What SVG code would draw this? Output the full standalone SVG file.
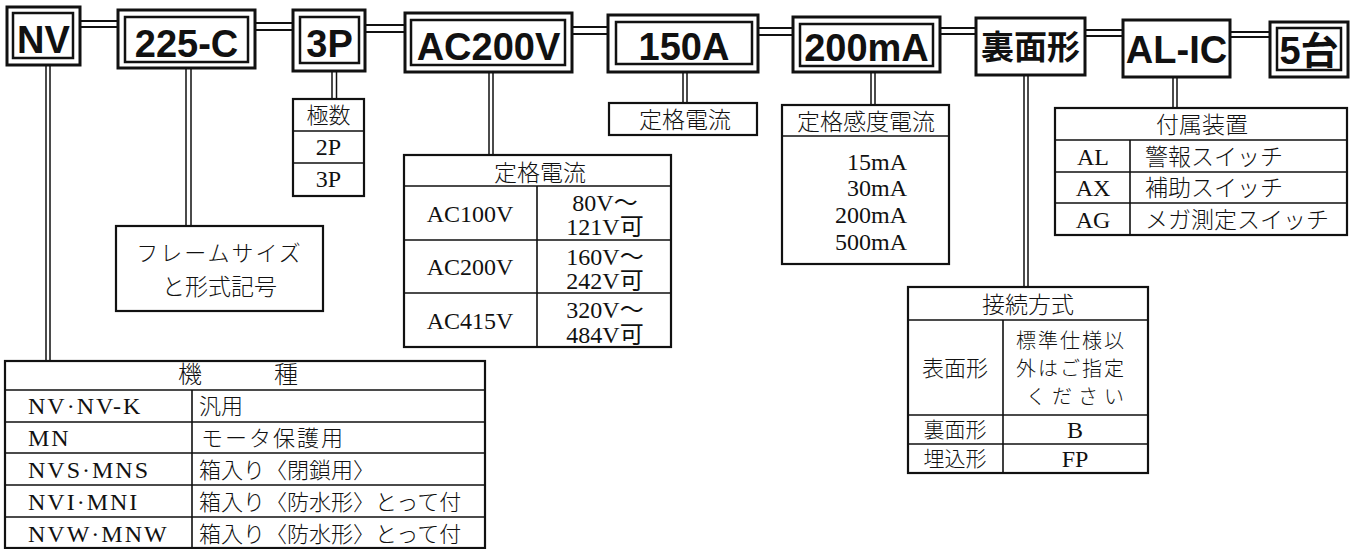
<svg xmlns="http://www.w3.org/2000/svg" width="1353" height="549" viewBox="0 0 1353 549">
<style>
.box{fill:#fff;stroke:#111;stroke-width:3}
.inner{fill:none;stroke:#111;stroke-width:2.5}
.tbl{fill:#fff;stroke:#111;stroke-width:2.2}
.ln{stroke:#111;stroke-width:1.6;fill:none}
.cn{stroke:#111;stroke-width:2;fill:none}
.st{stroke:#111;stroke-width:1.5;fill:none}
.big{font-family:"Liberation Sans","Noto Sans CJK JP",sans-serif;font-weight:bold;font-size:38px;text-anchor:middle;fill:#111}
.bigj{font-family:"Noto Sans CJK JP",sans-serif;font-weight:bold;font-size:33px;text-anchor:middle;fill:#111}
.t{font-family:"Liberation Serif","Noto Sans CJK JP",serif;font-size:24px;fill:#111}
.j{font-family:"Noto Sans CJK JP","Liberation Serif",sans-serif;font-size:22px;font-weight:300;fill:#111}
.c{text-anchor:middle}
.e{text-anchor:end}
</style>
<rect width="1353" height="549" fill="#fff"/>

<g id="connectors">
  <path class="cn" d="M80 21H118M80 27H118"/>
  <path class="cn" d="M255 23H293M255 30H293"/>
  <path class="cn" d="M365 25H405M365 32H405"/>
  <path class="cn" d="M572 27H608M572 34H608"/>
  <path class="cn" d="M758 28H793M758 35H793"/>
  <path class="cn" d="M940 28H976M940 34H976"/>
  <path class="cn" d="M1085 30H1123M1085 36H1123"/>
  <path class="cn" d="M1230 32H1270M1230 37H1270"/>
  <path class="st" d="M46 65V361M50 65V361"/>
  <path class="st" d="M186 68V226M191 68V226"/>
  <path class="st" d="M332 71V99M336.5 71V99"/>
  <path class="st" d="M489 72V155M493 72V155"/>
  <path class="st" d="M683 72V103M687 72V103"/>
  <path class="st" d="M871 72V105M875 72V105"/>
  <path class="st" d="M1024 75V287M1028 75V287"/>
  <path class="st" d="M1173 77V108M1177 77V108"/>
</g>

<g id="node-nv">
  <rect class="box" x="7" y="7" width="73" height="58"/>
  <rect class="inner" x="13" y="13" width="60" height="45"/>
  <text class="big" x="43.5" y="53">NV</text>
</g>
<g id="node-225c">
  <rect class="box" x="118" y="10" width="137" height="58"/>
  <rect class="inner" x="125" y="17" width="123" height="45"/>
  <text class="big" x="186.5" y="57">225-C</text>
</g>
<g id="node-3p">
  <rect class="box" x="293" y="10" width="72" height="61"/>
  <rect class="inner" x="300" y="17" width="59" height="46"/>
  <text class="big" x="329.5" y="57">3P</text>
</g>
<g id="node-ac200v">
  <rect class="box" x="405" y="13" width="167" height="59"/>
  <rect class="inner" x="411" y="20" width="154" height="45"/>
  <text class="big" x="488.5" y="60">AC200V</text>
</g>
<g id="node-150a">
  <rect class="box" x="608" y="15" width="150" height="57"/>
  <rect class="inner" x="616" y="22" width="136" height="42"/>
  <text class="big" x="684" y="60">150A</text>
</g>
<g id="node-200ma">
  <rect class="box" x="793" y="17" width="147" height="55"/>
  <rect class="inner" x="800" y="24" width="133" height="42"/>
  <text class="big" x="866.5" y="61">200mA</text>
</g>
<g id="node-ura">
  <rect class="box" x="976" y="18" width="109" height="57"/>
  <text class="bigj" x="1030.5" y="59">裏面形</text>
</g>
<g id="node-alic">
  <rect class="box" x="1123" y="20" width="107" height="57"/>
  <text class="big" x="1176.5" y="63">AL-IC</text>
</g>
<g id="node-5dai">
  <rect class="box" x="1270" y="22" width="78" height="55"/>
  <rect class="inner" x="1277" y="28" width="64" height="42"/>
  <text class="big" x="1309" y="64">5台</text>
</g>

<g id="table-kyokusu">
  <rect class="tbl" x="293" y="99" width="71" height="97"/>
  <path class="ln" d="M293 131H364M293 163H364"/>
  <text class="j c" x="328.5" y="123">極数</text>
  <text class="t c" x="328.5" y="155">2P</text>
  <text class="t c" x="328.5" y="187">3P</text>
</g>

<g id="box-frame">
  <rect class="tbl" x="116" y="226" width="207" height="85"/>
  <text class="j c" x="219.5" y="261" letter-spacing="2">フレームサイズ</text>
  <text class="j c" x="219.5" y="295" style="font-size:23px">と形式記号</text>
</g>

<g id="table-kishu">
  <rect class="tbl" x="5" y="361" width="480" height="187"/>
  <path class="ln" d="M5 390H485M5 422H485M5 453H485M5 485H485M5 517H485M192 390V548"/>
  <text class="j" x="178" y="383" style="font-size:24px">機　　　種</text>
  <text class="t" x="28" y="414" letter-spacing="2">NV·NV-K</text>
  <text class="t" x="28" y="446" letter-spacing="2">MN</text>
  <text class="t" x="28" y="478" letter-spacing="2">NVS·MNS</text>
  <text class="t" x="28" y="510" letter-spacing="2">NVI·MNI</text>
  <text class="t" x="28" y="542" letter-spacing="2">NVW·MNW</text>
  <text class="j" x="199" y="414">汎用</text>
  <text class="j" x="201" y="446" letter-spacing="2">モータ保護用</text>
  <text class="j" x="199" y="478">箱入り〈閉鎖用〉</text>
  <text class="j" x="199" y="510">箱入り〈防水形〉とって付</text>
  <text class="j" x="199" y="542">箱入り〈防水形〉とって付</text>
</g>

<g id="table-teikaku-denatsu">
  <rect class="tbl" x="404" y="155" width="267" height="192"/>
  <path class="ln" d="M404 186H671M404 240H671M404 293H671M537 186V347"/>
  <text class="j c" x="540" y="181" style="font-size:23px">定格電流</text>
  <text class="t c" x="470" y="222">AC100V</text>
  <text class="t c" x="470" y="275">AC200V</text>
  <text class="t c" x="470" y="329">AC415V</text>
  <text class="t c" x="605" y="211">80V～</text>
  <text class="t c" x="605" y="235">121V可</text>
  <text class="t c" x="605" y="265">160V～</text>
  <text class="t c" x="605" y="289">242V可</text>
  <text class="t c" x="605" y="318">320V～</text>
  <text class="t c" x="605" y="343">484V可</text>
</g>

<g id="box-teikaku-denryu">
  <rect class="tbl" x="609" y="103" width="148" height="32"/>
  <text class="j c" x="685" y="128" style="font-size:23px">定格電流</text>
</g>

<g id="table-kando">
  <rect class="tbl" x="782" y="105" width="167" height="159"/>
  <path class="ln" d="M782 136H949"/>
  <text class="j c" x="866" y="130" style="font-size:23px">定格感度電流</text>
  <text class="t e" x="907" y="170">15mA</text>
  <text class="t e" x="907" y="196">30mA</text>
  <text class="t e" x="907" y="223">200mA</text>
  <text class="t e" x="907" y="250">500mA</text>
</g>

<g id="table-setsuzoku">
  <rect class="tbl" x="908" y="287" width="240" height="186"/>
  <path class="ln" d="M908 320H1148M908 415H1148M908 444H1148M1003 320V473"/>
  <text class="j c" x="1028" y="313" style="font-size:23px">接続方式</text>
  <text class="j c" x="955" y="376" style="font-size:22px">表面形</text>
  <text class="j" x="1016" y="348" style="font-size:20px" letter-spacing="2">標準仕様以</text>
  <text class="j" x="1016" y="376" style="font-size:20px" letter-spacing="2">外はご指定</text>
  <text class="j" x="1026" y="404" style="font-size:20px" letter-spacing="6">ください</text>
  <text class="j c" x="955" y="437" style="font-size:21px">裏面形</text>
  <text class="t c" x="1075" y="438">B</text>
  <text class="j c" x="955" y="466" style="font-size:21px">埋込形</text>
  <text class="t c" x="1075" y="467">FP</text>
</g>

<g id="table-fuzoku">
  <rect class="tbl" x="1055" y="108" width="292" height="127"/>
  <path class="ln" d="M1055 140H1347M1055 172H1347M1055 203H1347M1130 140V235"/>
  <text class="j c" x="1202" y="133" style="font-size:23px">付属装置</text>
  <text class="t c" x="1093" y="165">AL</text>
  <text class="t c" x="1093" y="196">AX</text>
  <text class="t c" x="1093" y="228">AG</text>
  <text class="j" x="1145" y="165" style="font-size:23px">警報スイッチ</text>
  <text class="j" x="1145" y="196" style="font-size:23px">補助スイッチ</text>
  <text class="j" x="1145" y="228" style="font-size:23px">メガ測定スイッチ</text>
</g>
</svg>
